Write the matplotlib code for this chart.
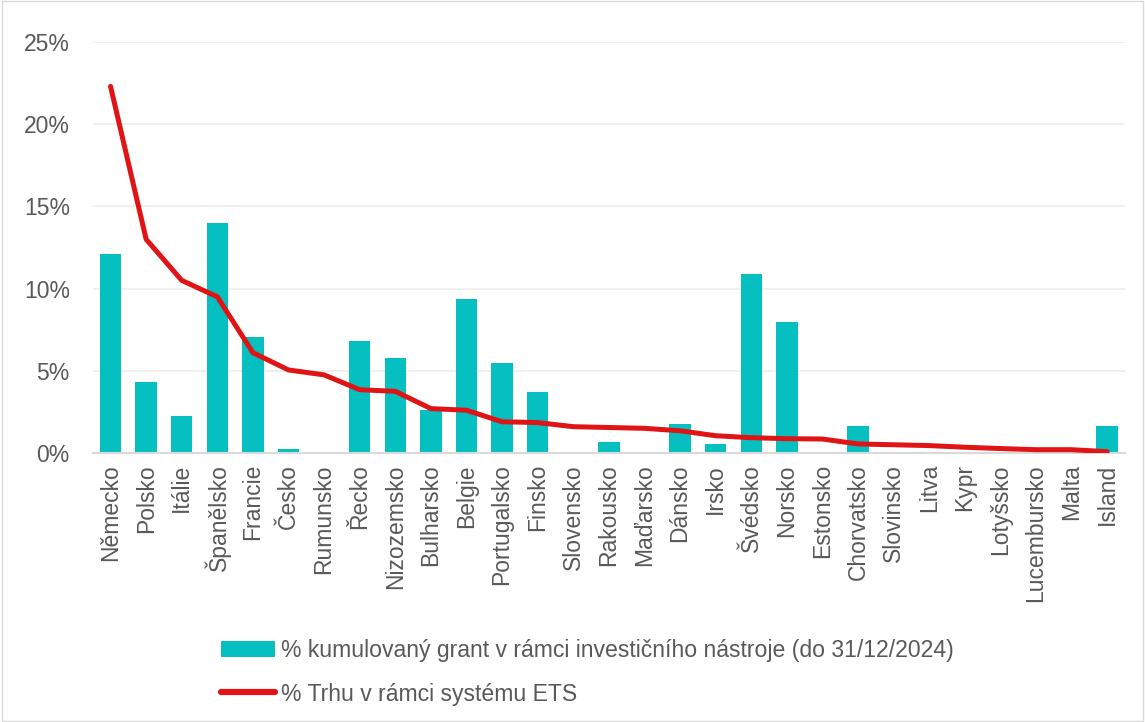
import matplotlib
matplotlib.use("Agg")
import matplotlib.pyplot as plt
from matplotlib.patches import Rectangle
from matplotlib.ticker import PercentFormatter

plt.rcParams['font.family'] = ['Liberation Sans', 'DejaVu Sans']

# Data
countries = ["Německo", "Polsko", "Itálie", "Španělsko", "Francie", "Česko", "Rumunsko",
             "Řecko", "Nizozemsko", "Bulharsko", "Belgie", "Portugalsko", "Finsko",
             "Slovensko", "Rakousko", "Maďarsko", "Dánsko", "Irsko", "Švédsko", "Norsko",
             "Estonsko", "Chorvatsko", "Slovinsko", "Litva", "Kypr", "Lotyšsko",
             "Lucembursko", "Malta", "Island"]
grant = [12.1, 4.3, 2.25, 14.0, 7.05, 0.25, 0.0, 6.8, 5.8, 2.6, 9.35, 5.5, 3.7,
         0.0, 0.67, 0.0, 1.75, 0.55, 10.9, 7.95, 0.0, 1.65, 0.0, 0.0, 0.0, 0.0,
         0.0, 0.0, 1.65]
ets = [22.3, 13.0, 10.5, 9.5, 6.1, 5.05, 4.75, 3.85, 3.75, 2.7, 2.6, 1.9, 1.85,
       1.6, 1.55, 1.5, 1.35, 1.05, 0.93, 0.87, 0.85, 0.55, 0.5, 0.45, 0.35, 0.27,
       0.2, 0.2, 0.08]

label_grant = "% kumulovaný grant v rámci investičního nástroje (do 31/12/2024)"
label_ets = "% Trhu v rámci systému ETS"

fig = plt.figure(figsize=(11.45, 7.22), dpi=100)
ax = fig.add_axes([0.081, 0.3726, 0.9015, 0.5692])

x = range(len(countries))
bars = ax.bar(x, grant, width=0.6, color="#06BFC0", label=label_grant, zorder=2)
line, = ax.plot(x, ets, color="#E01414", linewidth=3.6, label=label_ets, zorder=3,
                solid_capstyle="round")

ax.set_xlim(-0.5, len(countries) - 0.5)
ax.set_ylim(0, 25)
ax.set_yticks([0, 5, 10, 15, 20, 25])
ax.yaxis.set_major_formatter(PercentFormatter(decimals=0))
ax.set_xticks(list(x))
ax.set_xticklabels(countries, rotation=90)
ax.tick_params(axis="both", colors="#595959", labelsize=16.5, length=0)
ax.tick_params(axis="x", pad=8)
ax.tick_params(axis="y", pad=16.5)
ax.grid(axis="y", color="#EDEDED", linewidth=1.2, zorder=0)
for s in ["top", "right", "left"]:
    ax.spines[s].set_visible(False)
ax.spines["bottom"].set_color("#D9D9D9")
ax.spines["bottom"].set_linewidth(1.5)

leg = fig.legend([bars, line], [label_grant, label_ets], loc="center",
                 bbox_to_anchor=(0.513, 0.069), ncol=1, frameon=False,
                 fontsize=16.6, labelcolor="#595959", handlelength=2.3,
                 handletextpad=0.26, labelspacing=0.9)
for h in leg.get_lines():
    h.set_linewidth(4.5)

fig.patches.append(Rectangle((0.0015, 0.002), 0.997, 0.996, transform=fig.transFigure,
                             fill=False, edgecolor="#D9D9D9", linewidth=1))

fig.savefig("out.png", dpi=100)
